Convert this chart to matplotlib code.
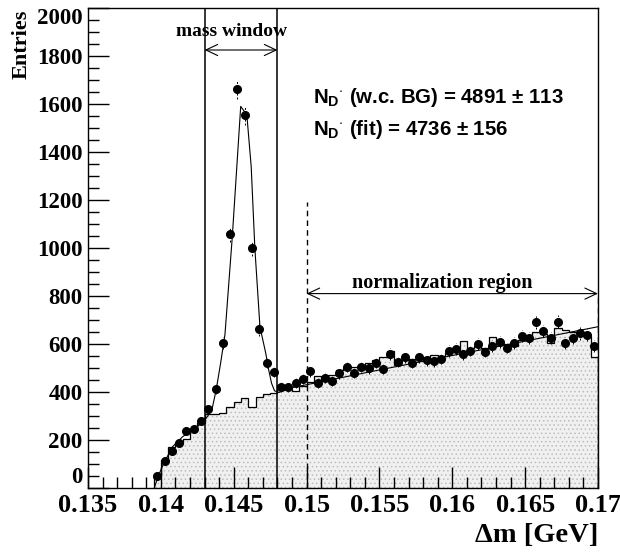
import numpy as np
import matplotlib
matplotlib.use("Agg")
import matplotlib.pyplot as plt
from matplotlib.ticker import MultipleLocator

# ---- data ----
bin_lo = 0.1395
bin_w = 0.0005
data_counts = [51, 114, 155, 189, 236, 245, 281, 329, 412, 603,
               1057, 1661, 1554, 999, 661, 522, 483, 422, 419, 436,
               455, 486, 436, 460, 446, 478, 505, 480, 505, 499,
               522, 496, 558, 526, 544, 522, 544, 533, 529, 539,
               571, 579, 557, 572, 601, 568, 593, 610, 585, 603,
               635, 624, 690, 654, 624, 693, 604, 626, 644, 639,
               593]
bg_counts = [60, 117, 172, 189, 205, 242, 269, 308, 308, 314,
             339, 360, 374, 339, 381, 390, 395, 429, 415, 405,
             425, 443, 467, 450, 471, 492, 499, 506, 512, 520,
             533, 544, 572, 512, 533, 536, 536, 544, 555, 549,
             561, 571, 614, 585, 590, 585, 631, 600, 602, 590,
             617, 631, 651, 640, 604, 665, 658, 650, 650, 635,
             547]
fit_x = [0.13955, 0.1398, 0.1402, 0.1408, 0.1415, 0.1425, 0.1431, 0.1435,
         0.1438, 0.1441, 0.1444, 0.1449, 0.14548, 0.1459, 0.1462, 0.14645,
         0.1468, 0.1472, 0.1474, 0.1476, 0.1478, 0.1481, 0.1490, 0.1550,
         0.1600, 0.1650, 0.1700]
fit_y = [0, 47, 103, 172, 214, 255, 290, 325, 410, 520, 640, 1045, 1590,
         1555, 1339, 1000, 672, 561, 492, 436, 405, 398, 418, 492, 552,
         612, 672]
mass_window = (0.143, 0.148)
norm_region = (0.150, 0.170)
xticks = [0.135, 0.14, 0.145, 0.15, 0.155, 0.16, 0.165, 0.17]
xticklabels = ["0.135", "0.14", "0.145", "0.15", "0.155", "0.16", "0.165", "0.17"]
yticks = list(range(0, 2001, 200))

serif = "Liberation Serif"
sans = "Liberation Sans"
plt.rcParams["hatch.linewidth"] = 0.6
plt.rcParams["mathtext.fontset"] = "custom"
plt.rcParams["mathtext.rm"] = "Liberation Sans:bold"
plt.rcParams["mathtext.it"] = "Liberation Sans:bold"
plt.rcParams["mathtext.bf"] = "Liberation Sans:bold"

fig = plt.figure(figsize=(6.2, 5.55), dpi=100)
ax = fig.add_axes([88/620, 1-488/555, (598-88)/620, (488-8)/555])

n = len(data_counts)
edges = bin_lo + bin_w*np.arange(n+1)
centers = bin_lo + bin_w*(np.arange(n)+0.5)
bg = np.array(bg_counts, dtype=float)
dc = np.array(data_counts, dtype=float)

# background histogram with stippled fill
ax.fill_between(edges, np.r_[bg, bg[-1]], step="post", facecolor="#f0f0f0",
                hatch="....", edgecolor="#bdbdbd", linewidth=0, zorder=1)
ax.stairs(bg, edges, color="black", linewidth=0.9, baseline=0, zorder=2)

# fit curve
ax.plot(fit_x, fit_y, color="black", linewidth=0.8, zorder=3)

# data points
eb = ax.errorbar(centers, dc, yerr=np.sqrt(dc), fmt="o", color="black",
                 markersize=5.5, elinewidth=0.7, capsize=0, zorder=4)
eb[2][0].set_linestyle((0, (2, 2)))

# window lines
for xv in mass_window:
    ax.plot([xv, xv], [0, 2000], color="black", linewidth=1.1, zorder=5)
ax.plot([norm_region[0]]*2, [0, 1190], color="black", linewidth=1.0,
        linestyle=(0, (4, 3)), zorder=5)
ax.plot([norm_region[1]]*2, [0, 808], color="black", linewidth=1.0,
        linestyle=(0, (4, 3)), zorder=5)

arrowstyle = "<->,head_length=0.85,head_width=0.4"
ax.annotate("", xy=(mass_window[0], 1825), xytext=(mass_window[1], 1825),
            arrowprops=dict(arrowstyle=arrowstyle, lw=0.8, color="black",
                            shrinkA=0, shrinkB=0, mutation_scale=10))
ax.text(0.14485, 1900, "mass window", ha="center", va="center",
        fontsize=14, fontweight="bold", family=serif)
ax.annotate("", xy=(norm_region[0], 810), xytext=(norm_region[1], 810),
            arrowprops=dict(arrowstyle=arrowstyle, lw=0.8, color="black",
                            shrinkA=0, shrinkB=0, mutation_scale=10))
ax.text(0.1593, 855, "normalization region", ha="center", va="center",
        fontsize=14.5, fontweight="bold", family=serif)

ax.text(0.15044, 1629, r"N$_{\mathrm{D}}$$^{\cdot}$ (w.c. BG) = 4891 $\pm$ 113",
        ha="left", va="center", fontsize=14.7, fontweight="bold", family=sans)
ax.text(0.15044, 1492, r"N$_{\mathrm{D}}$$^{\cdot}$ (fit) = 4736 $\pm$ 156",
        ha="left", va="center", fontsize=14.7, fontweight="bold", family=sans)

# axes
ax.set_xlim(0.135, 0.17)
ax.set_ylim(0, 2000)
ax.set_xticks(xticks)
ax.set_xticklabels(xticklabels)
ax.set_yticks(yticks)
ax.set_yticklabels([str(v) for v in yticks])
ax.xaxis.set_minor_locator(MultipleLocator(0.001))
ax.yaxis.set_minor_locator(MultipleLocator(50))
ax.tick_params(which="both", direction="in", top=False, right=False, width=1)
ax.tick_params(which="major", length=15, pad=4)
ax.tick_params(which="minor", length=8)
for lab in ax.get_yticklabels():
    lab.set_fontfamily(serif)
    lab.set_fontweight("bold")
    lab.set_fontsize(16.5)
for lab in ax.get_xticklabels():
    lab.set_fontfamily(serif)
    lab.set_fontweight("bold")
    lab.set_fontsize(19)
ylabs = ax.get_yticklabels()
ylabs[0].set_va("bottom")
ylabs[-1].set_va("top")
for sp in ax.spines.values():
    sp.set_linewidth(1.0)

fig.text(22/620, 1-10/555, "Entries", rotation=90, ha="center", va="top",
         fontsize=16, fontweight="bold", family=serif)
fig.text(598/620, 1-535/555, "\u0394m [GeV]", ha="right", va="center",
         fontsize=20.5, fontweight="bold", family=serif)

fig.savefig("out.png", dpi=100)
